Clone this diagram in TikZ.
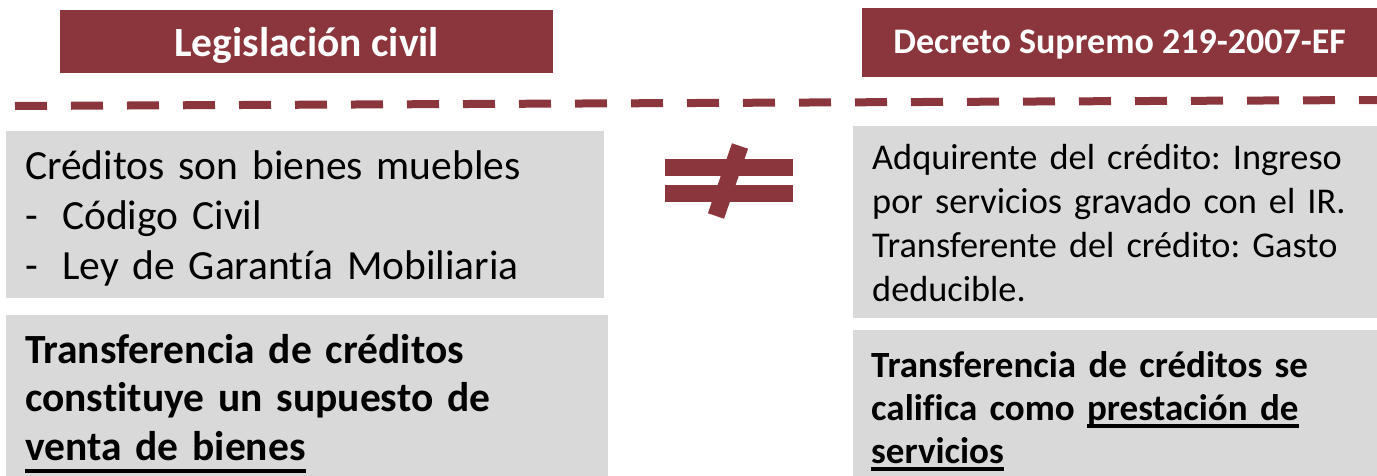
\documentclass[tikz,border=0pt]{standalone}
\usepackage{fontspec}
\setmainfont{Carlito}[Ligatures=NoCommon]
\usetikzlibrary{calc}
\definecolor{vino}{RGB}{139,54,60}
\definecolor{gris}{RGB}{217,217,217}
\frenchspacing
\newsavebox{\subcaja}
\newcommand{\subr}[2]{\leavevmode\sbox{\subcaja}{#2}\usebox{\subcaja}\llap{\rule[#1]{\wd\subcaja}{3.5pt}}}
\newcommand{\guion}{\makebox[37pt][l]{-}}

\begin{document}
\begin{tikzpicture}[x=1pt, y=-1pt,
    head/.style={fill=vino, text=white, inner sep=0pt, anchor=north west, font=\bfseries},
    card/.style={fill=gris, inner sep=0pt, anchor=north west},
    txt/.style={inner sep=0pt, anchor=base west, align=left}]
    \useasboundingbox (0,0) rectangle (1377,476);

    % cabeceras
    \node[head, minimum width=493pt, minimum height=63pt, text height=29pt, text depth=0pt,
          font=\bfseries\fontsize{41.5}{48}\selectfont] (civil) at (60,10) {Legislación civil};
    \node[head, minimum width=515pt, minimum height=69pt, text height=21pt, text depth=0pt,
          font=\bfseries\fontsize{36}{42}\selectfont] (decreto) at (862,8) {Decreto Supremo 219-2007-EF};

    \draw[vino, line width=8pt, dash pattern=on 32pt off 24pt] (15,106) -- (1377,100);

    % lado izquierdo
    \node[card, minimum width=598pt, minimum height=167pt] (muebles) at (6,131) {};
    \node[txt, text width=590pt, font=\fontsize{41.5}{50}\selectfont] (mueblest) at ($(muebles.north west)+(19,49)$)
        {Créditos son bienes muebles\\ \guion Código Civil\\ \guion Ley de Garantía Mobiliaria};
    \node[card, minimum width=602pt, minimum height=161pt] (venta) at (6,315) {};
    \node[txt, text width=590pt, font=\bfseries\fontsize{41.5}{48.5}\selectfont] (ventat) at ($(venta.north west)+(19,48)$)
        {Transferencia de créditos\\ constituye un supuesto de\\ \subr{-12.5pt}{venta de bienes}};

    % signo distinto
    \fill[vino] (665,159) rectangle (793,176);
    \fill[vino] (665,185) rectangle (793,202);
    \draw[vino, line width=17pt] (740,146) -- (716,216);

    % lado derecho
    \node[card, minimum width=524pt, minimum height=192pt] (ingreso) at (853,126) {};
    \node[txt, text width=500pt, font=\fontsize{36.3}{44}\selectfont] (ingresot) at ($(ingreso.north west)+(19,44)$)
        {\makebox[471pt][s]{Adquirente del crédito: Ingreso}\\
         \makebox[471pt][s]{por servicios gravado con el IR.}\\
         \makebox[471pt][s]{Transferente del crédito: Gasto}\\
         deducible.};
    \node[card, minimum width=524pt, minimum height=146pt] (servicio) at (853,330) {};
    \node[txt, text width=500pt, font=\bfseries\fontsize{37}{43}\selectfont] (serviciot) at ($(servicio.north west)+(18,47)$)
        {Transferencia de créditos se\\ califica como \subr{-7.5pt}{prestación de}\\ \subr{-7.5pt}{servicios}};
\end{tikzpicture}
\end{document}
